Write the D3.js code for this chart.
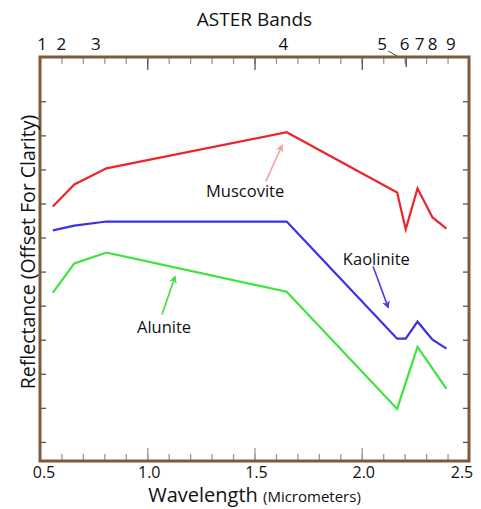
<!DOCTYPE html>
<html>
<head>
<meta charset="utf-8">
<script src="https://cdn.jsdelivr.net/npm/d3@7"></script>
<style>
  body { margin: 0; background: #fff; }
  text { font-family: "Open Sans", "DejaVu Sans", sans-serif; fill: #111; }
</style>
</head>
<body>
<div id="chart"></div>
<script>
// ASTER band centres (micrometers) where the spectra are sampled
const bandCenters = [0.56, 0.66, 0.81, 1.65, 2.165, 2.205, 2.26, 2.33, 2.395];
// band numbers and where their labels sit along the top (micrometers)
const bandNames = ['1', '2', '3', '4', '5', '6', '7', '8', '9'];
const bandLabelAt = [0.51, 0.60, 0.76, 1.635, 2.095, 2.20, 2.27, 2.33, 2.415];

// reflectance, offset for clarity (arbitrary units)
const muscovite = [6.91, 7.56, 8.03, 9.09, 7.32, 6.24, 7.44, 6.59, 6.26];
const kaolinite = [6.21, 6.35, 6.47, 6.47, 3.03, 3.03, 3.53, 3.00, 2.74];
const alunite   = [4.38, 5.24, 5.56, 4.41, 0.97, 1.74, 2.79, 2.15, 1.56];

const wavelengthTicks = [0.5, 1.0, 1.5, 2.0, 2.5];

const margin = { top: 57, right: 12, bottom: 48, left: 40 };
const W = 481, H = 509;
const width = W - margin.left - margin.right;
const height = H - margin.top - margin.bottom;

const x = d3.scaleLinear().domain([0.5, 2.5]).range([0, width]);
const y = d3.scaleLinear().domain([-0.56, 11.3]).range([height, 0]);

const svg = d3.select('#chart').append('svg')
  .attr('width', W)
  .attr('height', H);

const g = svg.append('g')
  .attr('transform', 'translate(' + margin.left + ',' + margin.top + ')');

const minor = d3.range(6, 25).map(d => d / 10);   // 0.6 .. 2.4
const major = [1.0, 1.5, 2.0];
const tickColor = '#9a9a9a';

// inward ticks, minor then major
const drawTicks = (axis, transform, values, size, color) => {
  const a = g.append('g')
    .attr('transform', transform)
    .call(axis.tickValues(values).tickSize(size).tickFormat(''));
  a.select('.domain').remove();
  a.selectAll('line').attr('stroke', color).attr('stroke-width', 1.3);
};

drawTicks(d3.axisBottom(x), 'translate(0,' + height + ')', minor, -7, tickColor);
drawTicks(d3.axisBottom(x), 'translate(0,' + height + ')', major, -13, tickColor);
drawTicks(d3.axisTop(x), 'translate(0,0)', minor, -7, tickColor);
drawTicks(d3.axisTop(x), 'translate(0,0)', major, -13, '#555');
drawTicks(d3.axisTop(x), 'translate(0,0)', [2.205], -10, '#444');
drawTicks(d3.axisLeft(y), 'translate(0,0)', d3.range(0, 11), -6, '#555');
drawTicks(d3.axisRight(y), 'translate(' + width + ',0)', d3.range(0, 11), -6, '#555');

// frame
g.append('rect')
  .attr('width', width)
  .attr('height', height)
  .attr('fill', 'none')
  .attr('stroke', '#7b5b3c')
  .attr('stroke-width', 3);

// bottom labels
g.selectAll('.wl')
  .data(wavelengthTicks)
  .enter().append('text')
  .attr('class', 'wl')
  .attr('x', d => x(d) + (d === 0.5 ? 4 : d === 2.5 ? -7 : 2))
  .attr('y', height + 17)
  .attr('text-anchor', 'middle')
  .style('font-size', '16px')
  .text(d => d.toFixed(1));

const xTitle = svg.append('text')
  .attr('x', margin.left + x(1.5))
  .attr('y', 502)
  .attr('text-anchor', 'middle');
xTitle.append('tspan').style('font-size', '20px').text('Wavelength ');
xTitle.append('tspan').style('font-size', '15px').text('(Micrometers)');

// top band labels
g.selectAll('.band')
  .data(bandNames)
  .enter().append('text')
  .attr('class', 'band')
  .attr('x', (d, i) => x(bandLabelAt[i]))
  .attr('y', -7)
  .attr('text-anchor', 'middle')
  .style('font-size', '17px')
  .text(d => d);

// leader from band 5 label down to the frame
g.append('line')
  .attr('x1', x(bandLabelAt[4]) + 6).attr('y1', -6)
  .attr('x2', x(bandCenters[4])).attr('y2', -1)
  .attr('stroke', '#444').attr('stroke-width', 1);

svg.append('text')
  .attr('x', margin.left + x(1.5))
  .attr('y', 26)
  .attr('text-anchor', 'middle')
  .style('font-size', '19px')
  .text('ASTER Bands');

svg.append('text')
  .attr('transform', 'translate(35,252) rotate(-90)')
  .attr('text-anchor', 'middle')
  .style('font-size', '19.5px')
  .text('Reflectance (Offset For Clarity)');

// spectra
const line = d3.line()
  .x((d, i) => x(bandCenters[i]))
  .y(d => y(d));

const series = [
  { name: 'Muscovite', values: muscovite, color: '#e8262b' },
  { name: 'Kaolinite', values: kaolinite, color: '#3d2fe3' },
  { name: 'Alunite', values: alunite, color: '#3fe33f' }
];

g.selectAll('.spec')
  .data(series)
  .enter().append('path')
  .attr('class', 'spec')
  .attr('d', d => line(d.values))
  .attr('fill', 'none')
  .attr('stroke', d => d.color)
  .attr('stroke-width', 2.2)
  .attr('stroke-linejoin', 'miter');

// annotations: label start, baseline and arrow (in data units)
const notes = [
  { text: 'Muscovite', tx: 1.274, ty: 7.2, from: [1.553, 7.65], to: [1.628, 8.7], color: '#f4a3a6' },
  { text: 'Kaolinite', tx: 1.912, ty: 5.2, from: [2.053, 5.15], to: [2.123, 3.95], color: '#4a3fe3' },
  { text: 'Alunite', tx: 0.952, ty: 3.2, from: [1.069, 3.74], to: [1.129, 4.85], color: '#44dd44' }
];

const defs = svg.append('defs');
notes.forEach((n, i) => {
  defs.append('marker')
    .attr('id', 'head' + i)
    .attr('viewBox', '0 0 10 10')
    .attr('refX', 8).attr('refY', 5)
    .attr('markerWidth', 5).attr('markerHeight', 5)
    .attr('orient', 'auto')
    .append('path')
    .attr('d', 'M0,0L10,5L0,10L3,5Z')
    .attr('fill', n.color);
});

g.selectAll('.arrow')
  .data(notes)
  .enter().append('line')
  .attr('class', 'arrow')
  .attr('x1', d => x(d.from[0])).attr('y1', d => y(d.from[1]))
  .attr('x2', d => x(d.to[0])).attr('y2', d => y(d.to[1]))
  .attr('stroke', d => d.color)
  .attr('stroke-width', 1.6)
  .attr('marker-end', (d, i) => 'url(#head' + i + ')');

g.selectAll('.note')
  .data(notes)
  .enter().append('text')
  .attr('class', 'note')
  .attr('x', d => x(d.tx))
  .attr('y', d => y(d.ty))
  .style('font-size', '16.5px')
  .text(d => d.text);
</script>
</body>
</html>
